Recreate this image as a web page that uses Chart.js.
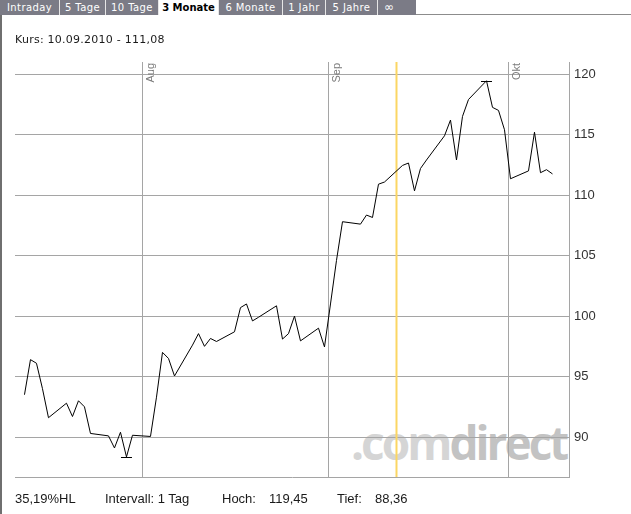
<!DOCTYPE html>
<html lang="de">
<head>
<meta charset="utf-8">
<title>Kursverlauf 3 Monate</title>
<script src="https://cdn.jsdelivr.net/npm/chart.js@4.4.1/dist/chart.umd.min.js"></script>
<style>
    html, body { margin: 0; padding: 0; background: #fff; }
    #frame { position: relative; width: 631px; height: 514px; overflow: hidden; background: #fff; }
    #left-border { position: absolute; left: 0; top: 15px; bottom: 0; width: 2px; background: #6f6f6f; z-index: 3; }
    .tabs { position: absolute; left: 0; top: 0; height: 15px; display: flex; background: #7b7b86; z-index: 3; }
    .tab {
        height: 15px; line-height: 15px; text-align: center; white-space: nowrap;
        font-family: "DejaVu Sans", sans-serif; font-size: 10px; letter-spacing: 0.4px;
        color: #fff; border-right: 1px solid #e6e6e6;
    }
    .tab.active { background: #fff; color: #000; font-weight: bold; letter-spacing: 0; }
    .tab.inf { text-align: left; padding-left: 6px; width: 32px !important; font-size: 12px; letter-spacing: 0; }
    .tab:last-child { border-right: none; }
    #tab-rule { position: absolute; left: 416px; right: 0; top: 14px; height: 1px; background: #8c8c8c; z-index: 3; }
    #kurs {
        position: absolute; left: 15px; top: 33px; line-height: 13px;
        font-family: "DejaVu Sans", sans-serif; font-size: 11px; letter-spacing: 0.25px; color: #1a1a1a; z-index: 3;
    }
    .foot {
        position: absolute; top: 491px; line-height: 15px; white-space: nowrap;
        font-family: "Liberation Sans", Arial, sans-serif; font-size: 13px; color: #1a1a1a; z-index: 3;
    }
    #watermark {
        position: absolute; left: 351px; top: 419px; line-height: 46px; white-space: nowrap;
        font-family: "Open Sans", sans-serif; font-weight: bold; font-size: 46px; letter-spacing: -3px; z-index: 0;
    }
    #watermark .dot { color: #d5d5d5; }
    #watermark .brand { color: #c3c3c3; }
    #chart { position: absolute; left: 0; top: 0; z-index: 1; }
</style>
</head>
<body>
<div id="frame">
    <div class="tabs">
        <div class="tab" style="width:59px">Intraday</div>
        <div class="tab" style="width:45px">5 Tage</div>
        <div class="tab" style="width:52px">10 Tage</div>
        <div class="tab active" style="width:59px">3 Monate</div>
        <div class="tab" style="width:63px">6 Monate</div>
        <div class="tab" style="width:42px">1 Jahr</div>
        <div class="tab" style="width:51px">5 Jahre</div>
        <div class="tab inf">∞</div>
    </div>
    <div id="tab-rule"></div>
    <div id="left-border"></div>
    <div id="kurs">Kurs: 10.09.2010 - 111,08</div>
    <div id="watermark"><span class="dot">.com</span><span class="brand">direct</span></div>
    <canvas id="chart" width="631" height="514"></canvas>
    <div class="foot" style="left:15px">35,19%HL</div>
    <div class="foot" style="left:105px">Intervall: 1 Tag</div>
    <div class="foot" style="left:222px">Hoch:</div>
    <div class="foot" style="left:269px">119,45</div>
    <div class="foot" style="left:337px">Tief:</div>
    <div class="foot" style="left:375px">88,36</div>
</div>
<script>
// Trading days shown (3 months up to 08.10.2010)
const dates = [
    '2010-07-12', '2010-07-13', '2010-07-14', '2010-07-15', '2010-07-16',
    '2010-07-19', '2010-07-20', '2010-07-21', '2010-07-22', '2010-07-23',
    '2010-07-26', '2010-07-27', '2010-07-28', '2010-07-29', '2010-07-30',
    '2010-08-02', '2010-08-03', '2010-08-04', '2010-08-05', '2010-08-06',
    '2010-08-09', '2010-08-10', '2010-08-11', '2010-08-12', '2010-08-13',
    '2010-08-16', '2010-08-17', '2010-08-18', '2010-08-19', '2010-08-20',
    '2010-08-23', '2010-08-24', '2010-08-25', '2010-08-26', '2010-08-27',
    '2010-08-30', '2010-08-31', '2010-09-01', '2010-09-02', '2010-09-03',
    '2010-09-06', '2010-09-07', '2010-09-08', '2010-09-09', '2010-09-10',
    '2010-09-13', '2010-09-14', '2010-09-15', '2010-09-16', '2010-09-17',
    '2010-09-20', '2010-09-21', '2010-09-22', '2010-09-23', '2010-09-24',
    '2010-09-27', '2010-09-28', '2010-09-29', '2010-09-30', '2010-10-01',
    '2010-10-04', '2010-10-05', '2010-10-06', '2010-10-07', '2010-10-08'
];

const closes = [
    93.5, 96.4, 96.1, 94.0, 91.6,
    92.8, 91.7, 93.0, 92.5, 90.3,
    90.1, 89.1, 90.4, 88.36, 90.15,
    90.05, 93.3, 97.0, 96.5, 95.05,
    97.6, 98.55, 97.5, 98.15, 97.9,
    98.7, 100.7, 101.0, 99.6, 99.9,
    100.85, 98.1, 98.55, 100.0, 97.95,
    99.0, 97.45, 101.0, 104.6, 107.8,
    107.6, 108.35, 108.15, 110.9, 111.08,
    112.45, 112.65, 110.35, 112.2, 112.9,
    114.9, 116.2, 112.9, 116.5, 117.9,
    119.45, 117.25, 117.0, 115.4, 111.35,
    112.0, 115.2, 111.85, 112.1, 111.75
];

const monthStarts = ['2010-08-01', '2010-09-01', '2010-10-01'];
const monthLabels = ['Aug', 'Sep', 'Okt'];
const yTicks = [90, 95, 100, 105, 110, 115, 120];
const cursorDate = '2010-09-12';

// day numbers counted from 1 July 2010; prices are stamped a little into the day
const DAY_OFFSET = 0.3;
const X_MIN = 9.72;
const X_MAX = 102.05;
const Y_MIN = 86.7;
const Y_MAX = 121.0;

const GRID = '#a5a5a5';

const dayIndex = (iso) => {
    const [y, m, d] = iso.split('-').map(Number);
    return (Date.UTC(y, m - 1, d) - Date.UTC(2010, 6, 1)) / 86400000;
};

const points = dates.map((d, i) => ({ x: dayIndex(d) + DAY_OFFSET, y: closes[i] }));
const monthValues = monthStarts.map(dayIndex);

const overlayPlugin = {
    id: 'overlay',
    beforeDatasetsDraw(chart) {
        const { ctx, chartArea, scales: { x } } = chart;
        // yellow cursor line
        const cx = x.getPixelForValue(dayIndex(cursorDate) + DAY_OFFSET);
        ctx.save();
        ctx.strokeStyle = '#fbd664';
        ctx.lineWidth = 2;
        ctx.beginPath();
        ctx.moveTo(cx, chartArea.top);
        ctx.lineTo(cx, chartArea.bottom);
        ctx.stroke();

        // month names, rotated, right of the month lines
        ctx.fillStyle = '#7a7a7a';
        ctx.font = '11px "Liberation Sans", Arial, sans-serif';
        ctx.textAlign = 'right';
        ctx.textBaseline = 'top';
        monthValues.forEach((v, i) => {
            const px = Math.round(x.getPixelForValue(v));
            ctx.save();
            ctx.translate(px + 2, chartArea.top + 1);
            ctx.rotate(-Math.PI / 2);
            ctx.fillText(monthLabels[i], 0, 0);
            ctx.restore();
        });
        ctx.restore();
    },
    afterDatasetsDraw(chart) {
        const { ctx, scales: { x, y } } = chart;
        // little caps at high and low
        const hi = closes.indexOf(Math.max(...closes));
        const lo = closes.indexOf(Math.min(...closes));
        ctx.save();
        ctx.strokeStyle = '#000';
        ctx.lineWidth = 1;
        [hi, lo].forEach((i) => {
            const px = x.getPixelForValue(points[i].x);
            const py = Math.round(y.getPixelForValue(points[i].y)) + 0.5;
            ctx.beginPath();
            ctx.moveTo(px - 5.5, py);
            ctx.lineTo(px + 5.5, py);
            ctx.stroke();
        });
        ctx.restore();
    }
};

document.addEventListener('DOMContentLoaded', () => {
    Chart.defaults.font.family = "'Liberation Sans', Arial, sans-serif";

    const ctx = document.getElementById('chart').getContext('2d');

    new Chart(ctx, {
        type: 'line',
        data: {
            datasets: [{
                data: points,
                borderColor: '#000',
                borderWidth: 1,
                pointRadius: 0,
                tension: 0,
                fill: false
            }]
        },
        options: {
            responsive: false,
            animation: false,
            events: [],
            layout: {
                padding: { left: 15, top: 62, right: 0, bottom: 37 }
            },
            scales: {
                x: {
                    type: 'linear',
                    position: 'bottom',
                    min: X_MIN,
                    max: X_MAX,
                    afterBuildTicks: (axis) => {
                        axis.ticks = monthValues.map(v => ({ value: v }));
                    },
                    afterFit: (axis) => { axis.height = 0; },
                    ticks: { display: false },
                    grid: { color: GRID, drawTicks: false },
                    border: { display: true, color: GRID }
                },
                y: {
                    type: 'linear',
                    position: 'right',
                    min: Y_MIN,
                    max: Y_MAX,
                    afterBuildTicks: (axis) => {
                        axis.ticks = yTicks.map(v => ({ value: v }));
                    },
                    afterFit: (axis) => { axis.width = 62; },
                    ticks: {
                        color: '#333',
                        padding: 5,
                        font: { size: 13 },
                        callback: (value) => String(value)
                    },
                    grid: { color: GRID, drawTicks: false },
                    border: { display: true, color: GRID }
                }
            },
            plugins: {
                legend: { display: false },
                tooltip: { enabled: false }
            }
        },
        plugins: [overlayPlugin]
    });
});
</script>
</body>
</html>
